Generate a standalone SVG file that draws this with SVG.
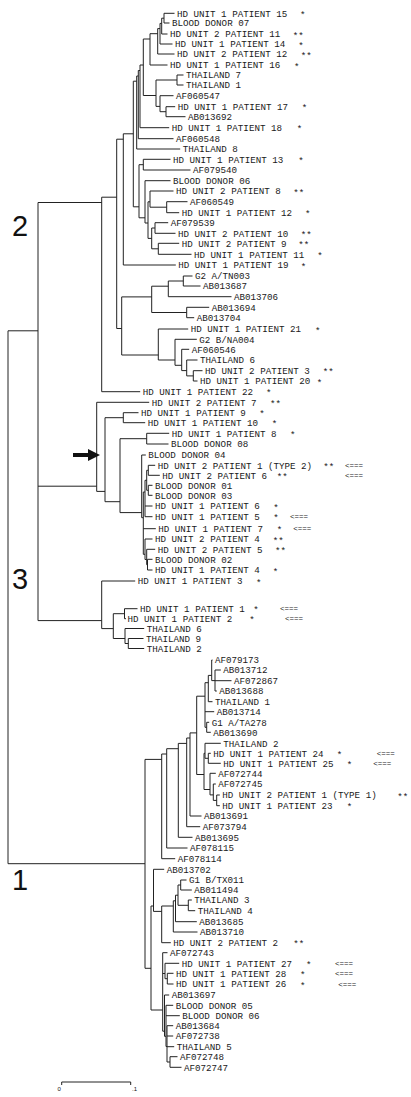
<svg xmlns="http://www.w3.org/2000/svg" width="411" height="1097" viewBox="0 0 411 1097">
<style>
.t{font-family:"Liberation Mono",monospace;font-size:9.2px;fill:#1a1a1a}
.a{font-family:"Liberation Mono",monospace;font-size:7.5px;fill:#1a1a1a}
.c{fill:none;stroke:#222;stroke-width:1}
.big{font-family:"Liberation Sans",sans-serif;font-size:29px;fill:#111}
.s{font-family:"Liberation Sans",sans-serif;font-size:6px;fill:#111}
</style>
<rect width="411" height="1097" fill="#fff"/>
<g id="connectors">
<path class="c" d="M164 13.3V23M164 13.3H174.5M164 23H169.5M161.7 18.2V34M161.7 18.2H164M161.7 34H167.5M160 23.4V44M160 23.4H161.7M160 44H172.5M157.7 28.6V54M157.7 28.6H160M157.7 54H174.5M150 33.7V65M150 33.7H157.7M150 65H167.5M177 75V85M177 75H183.5M177 85H183.5M166 106.7V116.7M166 106.7H175.2M166 116.7H185.5M160 95.7V111.7M160 95.7H173.5M160 111.7H166M156 80V106.4M156 80H177M156 106.4H160M143.3 39V95.5M143.3 39H150M143.3 95.5H156M140 65V127.7M140 65H143.3M140 127.7H169.2M138.3 70.5V138.7M138.3 70.5H140M138.3 138.7H173.5M136.7 76V149M136.7 76H138.3M136.7 149H180.2M143.3 159.3V170M143.3 159.3H170.5M143.3 170H190.5M166.7 201.7V212.7M166.7 201.7H187.5M166.7 212.7H179.2M150 191V207.2M150 191H173.5M150 207.2H166.7M155 222.7V233.3M155 222.7H168.2M155 233.3H175.5M158.3 243.3V254.3M158.3 243.3H179.2M158.3 254.3H191.5M151.7 228V248.8M151.7 228H155M151.7 248.8H158.3M148 201.8V238.4M148 201.8H150M148 238.4H151.7M145 180.7V223M145 180.7H170.5M145 223H148M139 164.7V217.8M139 164.7H143.3M139 217.8H145M133.3 81.2V206.8M133.3 81.2H136.7M133.3 206.8H139M123.3 133.8V265M123.3 133.8H133.3M123.3 265H175.8"/>
<path class="c" d="M183.3 276V286M183.3 276H192.5M183.3 286H200.5M168.3 281V296.7M168.3 281H183.3M168.3 296.7H231.5M186.7 307.3V317.7M186.7 307.3H209.2M186.7 317.7H194.2M151.7 286.2V312.5M151.7 286.2H168.3M151.7 312.5H186.7M193.3 370.7V381M193.3 370.7H202.5M193.3 381H197.5M186.7 360V375.9M186.7 360H197.5M186.7 375.9H193.3M181.7 349.3V370.6M181.7 349.3H189.2M181.7 370.6H186.7M175 339.3V365.3M175 339.3H196.8M175 365.3H181.7M158.3 329V360M158.3 329H188.2M158.3 360H175M121.7 296.9V355M121.7 296.9H151.7M121.7 355H158.3M116.7 139.2V328.5M116.7 139.2H123.3M116.7 328.5H121.7M101.7 197.2V391.7M101.7 197.2H116.7M101.7 391.7H140.2"/>
<path class="c" d="M148.3 465.3V475.3M148.3 465.3H155.2M148.3 475.3H159.8M148.3 485.3V495.3M148.3 485.3H152.5M148.3 495.3H152.5M146.7 470.3V490.3M146.7 470.3H148.3M146.7 490.3H148.3M145 480.3V516.7M145 480.3H146.7M145 506H152.5M145 516.7H152.5M147.5 559.3V570M147.5 559.3H152.5M147.5 570H152.5M146.7 549.3V564.7M146.7 549.3H155.2M146.7 564.7H147.5M145 539V559.5M145 539H152.5M145 559.5H146.7M143.3 492V554.3M143.3 492H145M143.3 528.7H155.8M143.3 554.3H145M141.7 455V517.7M141.7 455H145.8M141.7 517.7H143.3M146.7 433.3V444M146.7 433.3H169.2M146.7 444H168.5M120 438.7V512.6M120 438.7H146.7M120 512.6H141.7M123.3 412.7V422.7M123.3 412.7H138.5M123.3 422.7H145.2M105 417.7V501.7M105 417.7H123.3M105 501.7H120M96.7 402.3V491.4M96.7 402.3H149.2M96.7 491.4H105"/>
<path class="c" d="M124.5 608.7V618.7M124.5 608.7H137.5M124.5 618.7H126M128.3 638.5V648.5M128.3 638.5H143.5M128.3 648.5H144.2M125 628.5V643.5M125 628.5H144.2M125 643.5H128.3M113.3 613.7V638.5M113.3 613.7H124.5M113.3 638.5H125M101.7 581V628.6M101.7 581H135.2M101.7 628.6H113.3"/>
<path class="c" d="M38 202.5V620.6M38 202.5H101.7M38 486.2H96.7M38 620.6H101.7M8 330.8V863.7M8 330.8H38M8 863.7H145"/>
<path class="c" d="M215 670V691M215 670H220.8M215 680.7H231.5M215 691H216.8M211.7 660V680.6M211.7 660H212.5M211.7 680.6H215M208.3 675.4V701.7M208.3 675.4H211.7M208.3 701.7H212.5M206.7 722.3V732.3M206.7 722.3H209.2M206.7 732.3H210.8M205 682.7V727.3M205 682.7H208.3M205 711.7H214.2M205 727.3H206.7M208.3 753.3V763.3M208.3 753.3H210.8M208.3 763.3H220.8M205 743.3V758.3M205 743.3H220.8M205 758.3H208.3M216.7 795V805.7M216.7 795H219.8M216.7 805.7H219.8M213.3 784V800.4M213.3 784H215.8M213.3 800.4H216.7M210 773.3V794.9M210 773.3H215.8M210 794.9H213.3M204 753.3V789.5M204 753.3H205M204 789.5H210M196.7 696.2V774.5M196.7 696.2H205M196.7 774.5H204M190 732.9V816M190 732.9H196.7M190 816H201.5M186.7 738V826.7M186.7 738H190M186.7 826.7H200.2M178.3 743.4V837.3M178.3 743.4H186.7M178.3 837.3H192.5M166.7 748.7V848M166.7 748.7H178.3M166.7 848H187.5M161.7 754V858.7M161.7 754H166.7M161.7 858.7H175.2"/>
<path class="c" d="M180.7 880V890M180.7 880H186.5M180.7 890H191.8M188.3 900V910.7M188.3 900H191.8M188.3 910.7H195.2M178 885V905.3M178 885H180.7M178 905.3H188.3M175.5 895.2V921.7M175.5 895.2H178M175.5 921.7H196.8M173.3 900.8V932M173.3 900.8H175.5M173.3 932H197.5M161.7 906V942.7M161.7 906H173.3M161.7 942.7H170.8M153.5 869.3V911.4M153.5 869.3H164.2M153.5 911.4H161.7M167.3 973.3V984M167.3 973.3H173.5M167.3 984H173.5M165 963.3V978.7M165 963.3H179.2M165 978.7H167.3M170 1056.7V1067.3M170 1056.7H177.5M170 1067.3H181.5M167 1025.7V1062M167 1025.7H173.2M167 1036H173.2M167 1046.7H174.2M167 1062H170M166 1005.3V1046.5M166 1005.3H173.2M166 1015.7H179.8M166 1046.5H167M164.5 995V1036.3M164.5 995H169.2M164.5 1036.3H166M162.7 952.7V1031.2M162.7 952.7H167.5M162.7 973.5H165M162.7 1031.2H164.5M151 906V1010M151 906H153.5M151 1010H162.7M145 759.4V968.3M145 759.4H161.7M145 968.3H151"/>
</g>
<g id="clade-labels">
<text class="big" x="12" y="236">2</text>
<text class="big" x="12" y="589">3</text>
<text class="big" x="12" y="890">1</text>
</g>
<g id="arrow"><polygon points="73,453 88,453 88,449 100,455 88,461 88,457 73,457" fill="#111"/></g>
<g id="scale">
<path class="c" d="M61.7 1085V1082H130.7V1085"/>
<text class="s" x="57.5" y="1091">0</text>
<text class="s" x="132" y="1091">.1</text>
</g>
<g id="leaf-01"><text class="t" x="177" y="16.6">HD UNIT 1 PATIENT 15</text><text class="t" x="300" y="17.8">*</text></g>
<g id="leaf-02"><text class="t" x="172" y="26.3">BLOOD DONOR 07</text></g>
<g id="leaf-03"><text class="t" x="170" y="37.3">HD UNIT 2 PATIENT 11</text><text class="t" x="292.7" y="38.5">**</text></g>
<g id="leaf-04"><text class="t" x="175" y="47.3">HD UNIT 1 PATIENT 14</text><text class="t" x="298.3" y="48.5">*</text></g>
<g id="leaf-05"><text class="t" x="177" y="57.3">HD UNIT 2 PATIENT 12</text><text class="t" x="300.7" y="58.5">**</text></g>
<g id="leaf-06"><text class="t" x="170" y="68.3">HD UNIT 1 PATIENT 16</text><text class="t" x="294" y="69.5">*</text></g>
<g id="leaf-07"><text class="t" x="186" y="78.3">THAILAND 7</text></g>
<g id="leaf-08"><text class="t" x="186" y="88.3">THAILAND 1</text></g>
<g id="leaf-09"><text class="t" x="176" y="99">AF060547</text></g>
<g id="leaf-10"><text class="t" x="177.7" y="110">HD UNIT 1 PATIENT 17</text><text class="t" x="301.7" y="111.2">*</text></g>
<g id="leaf-11"><text class="t" x="188" y="120">AB013692</text></g>
<g id="leaf-12"><text class="t" x="171.7" y="131">HD UNIT 1 PATIENT 18</text><text class="t" x="296.7" y="132.2">*</text></g>
<g id="leaf-13"><text class="t" x="176" y="142">AF060548</text></g>
<g id="leaf-14"><text class="t" x="182.7" y="152.3">THAILAND 8</text></g>
<g id="leaf-15"><text class="t" x="173" y="162.6">HD UNIT 1 PATIENT 13</text><text class="t" x="298.3" y="163.8">*</text></g>
<g id="leaf-16"><text class="t" x="193" y="173.3">AF079540</text></g>
<g id="leaf-17"><text class="t" x="173" y="184">BLOOD DONOR 06</text></g>
<g id="leaf-18"><text class="t" x="176" y="194.3">HD UNIT 2 PATIENT 8</text><text class="t" x="293.3" y="195.5">**</text></g>
<g id="leaf-19"><text class="t" x="190" y="205">AF060549</text></g>
<g id="leaf-20"><text class="t" x="181.7" y="216">HD UNIT 1 PATIENT 12</text><text class="t" x="305" y="217.2">*</text></g>
<g id="leaf-21"><text class="t" x="170.7" y="226">AF079539</text></g>
<g id="leaf-22"><text class="t" x="178" y="236.6">HD UNIT 2 PATIENT 10</text><text class="t" x="300.7" y="237.8">**</text></g>
<g id="leaf-23"><text class="t" x="181.7" y="246.6">HD UNIT 2 PATIENT 9</text><text class="t" x="298.3" y="247.8">**</text></g>
<g id="leaf-24"><text class="t" x="194" y="257.6">HD UNIT 1 PATIENT 11</text><text class="t" x="317.3" y="258.8">*</text></g>
<g id="leaf-25"><text class="t" x="178.3" y="268.3">HD UNIT 1 PATIENT 19</text><text class="t" x="300.7" y="269.5">*</text></g>
<g id="leaf-26"><text class="t" x="195" y="279.3">G2 A/TN003</text></g>
<g id="leaf-27"><text class="t" x="203" y="289.3">AB013687</text></g>
<g id="leaf-28"><text class="t" x="234" y="300">AB013706</text></g>
<g id="leaf-29"><text class="t" x="211.7" y="310.6">AB013694</text></g>
<g id="leaf-30"><text class="t" x="196.7" y="321">AB013704</text></g>
<g id="leaf-31"><text class="t" x="190.7" y="332.3">HD UNIT 1 PATIENT 21</text><text class="t" x="315" y="333.5">*</text></g>
<g id="leaf-32"><text class="t" x="199.3" y="342.6">G2 B/NA004</text></g>
<g id="leaf-33"><text class="t" x="191.7" y="352.6">AF060546</text></g>
<g id="leaf-34"><text class="t" x="200" y="363.3">THAILAND 6</text></g>
<g id="leaf-35"><text class="t" x="205" y="374">HD UNIT 2 PATIENT 3</text><text class="t" x="322.7" y="375.2">**</text></g>
<g id="leaf-36"><text class="t" x="200" y="384.3">HD UNIT 1 PATIENT 20</text><text class="t" x="316.7" y="385.5">*</text></g>
<g id="leaf-37"><text class="t" x="142.7" y="395">HD UNIT 1 PATIENT 22</text><text class="t" x="266" y="396.2">*</text></g>
<g id="leaf-38"><text class="t" x="151.7" y="405.6">HD UNIT 2 PATIENT 7</text><text class="t" x="270" y="406.8">**</text></g>
<g id="leaf-39"><text class="t" x="141" y="416">HD UNIT 1 PATIENT 9</text><text class="t" x="259.3" y="417.2">*</text></g>
<g id="leaf-40"><text class="t" x="147.7" y="426">HD UNIT 1 PATIENT 10</text><text class="t" x="271.7" y="427.2">*</text></g>
<g id="leaf-41"><text class="t" x="171.7" y="436.6">HD UNIT 1 PATIENT 8</text><text class="t" x="290" y="437.8">*</text></g>
<g id="leaf-42"><text class="t" x="171" y="447.3">BLOOD DONOR 08</text></g>
<g id="leaf-43"><text class="t" x="148.3" y="458.3">BLOOD DONOR 04</text></g>
<g id="leaf-44"><text class="t" x="157.7" y="468.6">HD UNIT 2 PATIENT 1 (TYPE 2)</text><text class="t" x="323.3" y="469.8">**</text><text class="a" x="345" y="467.9">&lt;===</text></g>
<g id="leaf-45"><text class="t" x="162.3" y="478.6">HD UNIT 2 PATIENT 6</text><text class="t" x="276.7" y="479.8">**</text><text class="a" x="345" y="477.9">&lt;===</text></g>
<g id="leaf-46"><text class="t" x="155" y="488.6">BLOOD DONOR 01</text></g>
<g id="leaf-47"><text class="t" x="155" y="498.6">BLOOD DONOR 03</text></g>
<g id="leaf-48"><text class="t" x="155" y="509.3">HD UNIT 1 PATIENT 6</text><text class="t" x="273.3" y="510.5">*</text></g>
<g id="leaf-49"><text class="t" x="155" y="520">HD UNIT 1 PATIENT 5</text><text class="t" x="273.3" y="521.2">*</text><text class="a" x="290" y="519.3">&lt;===</text></g>
<g id="leaf-50"><text class="t" x="158.3" y="532">HD UNIT 1 PATIENT 7</text><text class="t" x="276.7" y="533.2">*</text><text class="a" x="293.3" y="531.3">&lt;===</text></g>
<g id="leaf-51"><text class="t" x="155" y="542.3">HD UNIT 2 PATIENT 4</text><text class="t" x="272.7" y="543.5">**</text></g>
<g id="leaf-52"><text class="t" x="157.7" y="552.6">HD UNIT 2 PATIENT 5</text><text class="t" x="275" y="553.8">**</text></g>
<g id="leaf-53"><text class="t" x="155" y="562.6">BLOOD DONOR 02</text></g>
<g id="leaf-54"><text class="t" x="155" y="573.3">HD UNIT 1 PATIENT 4</text><text class="t" x="272.7" y="574.5">*</text></g>
<g id="leaf-55"><text class="t" x="137.7" y="584.3">HD UNIT 1 PATIENT 3</text><text class="t" x="256" y="585.5">*</text></g>
<g id="leaf-56"><text class="t" x="140" y="612">HD UNIT 1 PATIENT 1</text><text class="t" x="253.3" y="613.2">*</text><text class="a" x="280" y="611.3">&lt;===</text></g>
<g id="leaf-57"><text class="t" x="127.5" y="622">HD UNIT 1 PATIENT 2</text><text class="t" x="249.3" y="623.2">*</text><text class="a" x="285" y="621.3">&lt;===</text></g>
<g id="leaf-58"><text class="t" x="146.7" y="631.8">THAILAND 6</text></g>
<g id="leaf-59"><text class="t" x="146" y="641.8">THAILAND 9</text></g>
<g id="leaf-60"><text class="t" x="146.7" y="651.8">THAILAND 2</text></g>
<g id="leaf-61"><text class="t" x="215" y="663.3">AF079173</text></g>
<g id="leaf-62"><text class="t" x="223.3" y="673.3">AB013712</text></g>
<g id="leaf-63"><text class="t" x="234" y="684">AF072867</text></g>
<g id="leaf-64"><text class="t" x="219.3" y="694.3">AB013688</text></g>
<g id="leaf-65"><text class="t" x="215" y="705">THAILAND 1</text></g>
<g id="leaf-66"><text class="t" x="216.7" y="715">AB013714</text></g>
<g id="leaf-67"><text class="t" x="211.7" y="725.6">G1 A/TA278</text></g>
<g id="leaf-68"><text class="t" x="213.3" y="735.6">AB013690</text></g>
<g id="leaf-69"><text class="t" x="223.3" y="746.6">THAILAND 2</text></g>
<g id="leaf-70"><text class="t" x="213.3" y="756.6">HD UNIT 1 PATIENT 24</text><text class="t" x="336.7" y="757.8">*</text><text class="a" x="376.7" y="755.9">&lt;===</text></g>
<g id="leaf-71"><text class="t" x="223.3" y="766.6">HD UNIT 1 PATIENT 25</text><text class="t" x="346.7" y="767.8">*</text><text class="a" x="373.3" y="765.9">&lt;===</text></g>
<g id="leaf-72"><text class="t" x="218.3" y="776.6">AF072744</text></g>
<g id="leaf-73"><text class="t" x="218.3" y="787.3">AF072745</text></g>
<g id="leaf-74"><text class="t" x="222.3" y="798.3">HD UNIT 2 PATIENT 1 (TYPE 1)</text><text class="t" x="397.3" y="799.5">**</text></g>
<g id="leaf-75"><text class="t" x="222.3" y="809">HD UNIT 1 PATIENT 23</text><text class="t" x="346.7" y="810.2">*</text></g>
<g id="leaf-76"><text class="t" x="204" y="819.3">AB013691</text></g>
<g id="leaf-77"><text class="t" x="202.7" y="830">AF073794</text></g>
<g id="leaf-78"><text class="t" x="195" y="840.6">AB013695</text></g>
<g id="leaf-79"><text class="t" x="190" y="851.3">AF078115</text></g>
<g id="leaf-80"><text class="t" x="177.7" y="862">AF078114</text></g>
<g id="leaf-81"><text class="t" x="166.7" y="872.6">AB013702</text></g>
<g id="leaf-82"><text class="t" x="189" y="883.3">G1 B/TX011</text></g>
<g id="leaf-83"><text class="t" x="194.3" y="893.3">AB011494</text></g>
<g id="leaf-84"><text class="t" x="194.3" y="903.3">THAILAND 3</text></g>
<g id="leaf-85"><text class="t" x="197.7" y="914">THAILAND 4</text></g>
<g id="leaf-86"><text class="t" x="199.3" y="925">AB013685</text></g>
<g id="leaf-87"><text class="t" x="200" y="935.3">AB013710</text></g>
<g id="leaf-88"><text class="t" x="173.3" y="946">HD UNIT 2 PATIENT 2</text><text class="t" x="293.3" y="947.2">**</text></g>
<g id="leaf-89"><text class="t" x="170" y="956">AF072743</text></g>
<g id="leaf-90"><text class="t" x="181.7" y="966.6">HD UNIT 1 PATIENT 27</text><text class="t" x="306" y="967.8">*</text><text class="a" x="335" y="965.9">&lt;===</text></g>
<g id="leaf-91"><text class="t" x="176" y="976.6">HD UNIT 1 PATIENT 28</text><text class="t" x="300" y="977.8">*</text><text class="a" x="335" y="975.9">&lt;===</text></g>
<g id="leaf-92"><text class="t" x="176" y="987.3">HD UNIT 1 PATIENT 26</text><text class="t" x="300" y="988.5">*</text><text class="a" x="338.3" y="986.6">&lt;===</text></g>
<g id="leaf-93"><text class="t" x="171.7" y="998.3">AB013697</text></g>
<g id="leaf-94"><text class="t" x="175.7" y="1008.6">BLOOD DONOR 05</text></g>
<g id="leaf-95"><text class="t" x="182.3" y="1019">BLOOD DONOR 06</text></g>
<g id="leaf-96"><text class="t" x="175.7" y="1029">AB013684</text></g>
<g id="leaf-97"><text class="t" x="175.7" y="1039.3">AF072738</text></g>
<g id="leaf-98"><text class="t" x="176.7" y="1050">THAILAND 5</text></g>
<g id="leaf-99"><text class="t" x="180" y="1060">AF072748</text></g>
<g id="leaf-100"><text class="t" x="184" y="1070.6">AF072747</text></g>
</svg>
